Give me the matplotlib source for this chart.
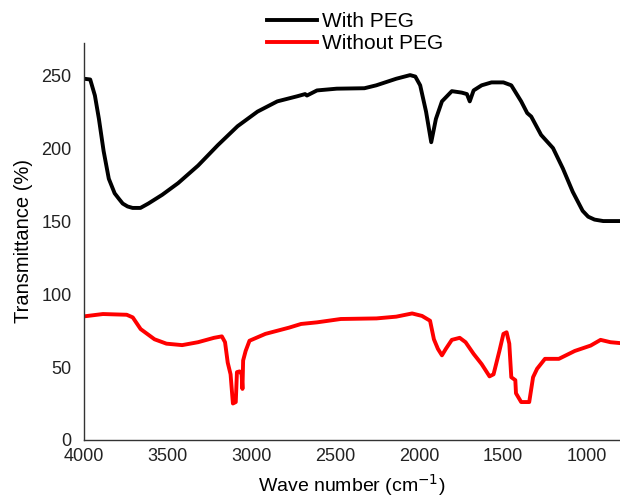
import matplotlib.pyplot as plt

plt.rcParams['font.family'] = ['Liberation Sans', 'DejaVu Sans']

# With PEG (black)
wn_peg = [4000, 3963, 3935, 3911, 3883, 3852, 3817, 3790, 3769, 3740, 3710, 3663, 3616, 3533,
          3438, 3319, 3201, 3083, 2964, 2846, 2727, 2680, 2669, 2609, 2491, 2326,
          2255, 2136, 2053, 2022, 1993, 1958, 1927, 1899, 1863, 1804, 1745, 1714,
          1697, 1674, 1626, 1567, 1496, 1449, 1390, 1354, 1330, 1271, 1200, 1141,
          1082, 1023, 990, 952, 900, 857, 791]
t_peg = [247.5, 247, 236, 220, 198, 179, 169, 165, 162, 160, 159, 159, 162, 168,
         176, 188, 202, 215, 225, 232, 235.5, 237, 236, 239.5, 240.7, 241,
         243, 247.5, 250, 249, 243, 225, 204, 220, 232, 239, 238, 237,
         232, 239.5, 243, 245, 245, 243, 232, 224, 221.6, 209, 200, 186,
         170, 157, 153, 151, 150, 150, 150]

# Without PEG (red)
wn_nopeg = [4000, 3887, 3745, 3709, 3662, 3579, 3508, 3414, 3319, 3224, 3177, 3158,
            3142, 3125, 3111, 3094, 3087, 3071, 3059, 3054, 3050, 3035, 3012, 2917,
            2775, 2704, 2609, 2467, 2254, 2136, 2041, 1982, 1934, 1911, 1887, 1863,
            1840, 1804, 1757, 1722, 1674, 1626, 1579, 1555, 1544, 1520, 1496, 1477,
            1461, 1449, 1425, 1421, 1390, 1342, 1319, 1295, 1248, 1165, 1070, 975,
            916, 857, 791]
t_nopeg = [84.7, 86.3, 85.8, 84, 76, 69, 66, 65, 67, 70, 71, 67,
           53, 45, 25, 26, 46.5, 47, 45, 35, 54.5, 61, 68, 72.7,
           77, 79.5, 80.6, 82.9, 83.3, 84.5, 86.7, 85, 81.7, 69, 62.4, 58,
           62.4, 68.6, 70, 67, 59, 52, 43.6, 45, 50, 61, 72.7, 73.8,
           66, 43, 41, 32, 26, 26, 43, 48.8, 55.6, 55.6, 61, 64.7,
           68.6, 67, 66.3]

fig = plt.figure(figsize=(6.2, 4.97), dpi=100)
ax = fig.add_axes([0.1355, 0.1147, 0.8645, 0.7988])

ax.plot(wn_peg, t_peg, color='black', lw=2.8, label='With PEG')
ax.plot(wn_nopeg, t_nopeg, color='#ff0000', lw=2.8, label='Without PEG')

ax.set_xlim(4000, 800)
ax.set_ylim(0, 272)
ax.set_xticks([4000, 3500, 3000, 2500, 2000, 1500, 1000])
ax.set_yticks([0, 50, 100, 150, 200, 250])
ax.tick_params(length=0, labelsize=13, colors='#222222')
ax.tick_params(axis='x', pad=6)
ax.tick_params(axis='y', pad=9)

for s in ['top', 'right']:
    ax.spines[s].set_visible(False)
for s in ['left', 'bottom']:
    ax.spines[s].set_color('#333333')
    ax.spines[s].set_linewidth(1.0)

ax.set_xlabel('Wave number (cm$^{-1}$)', fontsize=14, labelpad=5)
ax.set_ylabel('Transmittance (%)', fontsize=14.5, labelpad=6)

fig.legend(loc='center', bbox_to_anchor=(0.573, 0.934), frameon=False,
           fontsize=15, handlelength=2.4, handletextpad=0.25, labelspacing=0.15)

fig.savefig('out.png', dpi=100)
